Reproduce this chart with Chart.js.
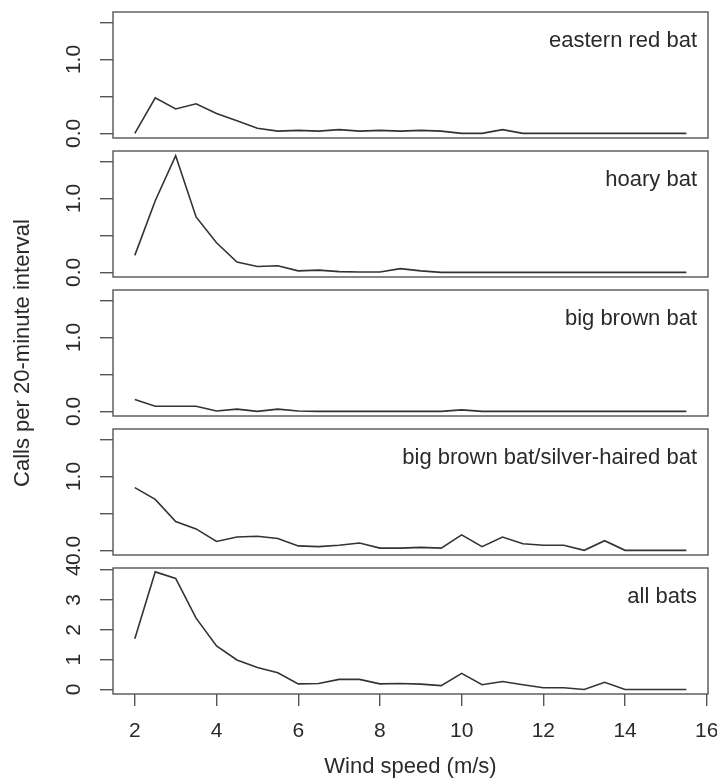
<!DOCTYPE html>
<html>
<head>
<meta charset="utf-8">
<script src="https://cdn.jsdelivr.net/npm/chart.js@4.4.1/dist/chart.umd.min.js"></script>
<style>
  html, body { margin: 0; padding: 0; background: #fff; }
  #wrap { position: relative; width: 717px; height: 783px; overflow: hidden; background: #fff; }
  #wrap canvas { position: absolute; left: 0; }
</style>
</head>
<body>
<div id="wrap"></div>
<script>
// wind speed bins (m/s)
const windSpeed = [2, 2.5, 3, 3.5, 4, 4.5, 5, 5.5, 6, 6.5, 7, 7.5, 8, 8.5, 9, 9.5,
                   10, 10.5, 11, 11.5, 12, 12.5, 13, 13.5, 14, 14.5, 15, 15.5];

// calls per 20-minute interval
const easternRedBat = [0, 0.48, 0.33, 0.40, 0.27, 0.17, 0.07, 0.03, 0.04, 0.03, 0.05, 0.03, 0.04, 0.03,
                       0.04, 0.03, 0, 0, 0.05, 0, 0, 0, 0, 0, 0, 0, 0, 0];
const hoaryBat = [0.23, 0.97, 1.58, 0.75, 0.40, 0.14, 0.08, 0.09, 0.02, 0.03, 0.01, 0.005, 0.005, 0.05,
                  0.02, 0, 0, 0, 0, 0, 0, 0, 0, 0, 0, 0, 0, 0];
const bigBrownBat = [0.16, 0.07, 0.07, 0.07, 0.005, 0.03, 0, 0.03, 0.005, 0, 0, 0, 0, 0,
                     0, 0, 0.02, 0, 0, 0, 0, 0, 0, 0, 0, 0, 0, 0];
const bigBrownSilverHaired = [0.85, 0.69, 0.39, 0.29, 0.12, 0.18, 0.19, 0.16, 0.06, 0.05, 0.07, 0.10, 0.03, 0.03,
                              0.04, 0.03, 0.21, 0.05, 0.18, 0.09, 0.07, 0.07, 0, 0.13, 0, 0, 0, 0];
const allBats = [1.70, 3.94, 3.72, 2.39, 1.46, 0.99, 0.74, 0.56, 0.19, 0.20, 0.34, 0.34, 0.19, 0.20,
                 0.18, 0.13, 0.54, 0.16, 0.27, 0.16, 0.06, 0.06, 0, 0.24, 0, 0, 0, 0];

const panelNames = ['eastern red bat', 'hoary bat', 'big brown bat', 'big brown bat/silver-haired bat', 'all bats'];
const panelSeries = [easternRedBat, hoaryBat, bigBrownBat, bigBrownSilverHaired, allBats];

const xTicks = [2, 4, 6, 8, 10, 12, 14, 16];
const speciesYTicks = [0, 0.5, 1, 1.5];
const speciesYLabels = ['0.0', '', '1.0', ''];
const allYTicks = [0, 1, 2, 3, 4];
const allYLabels = ['0', '1', '2', '3', '4'];

const xTitle = 'Wind speed (m/s)';
const yTitle = 'Calls per 20-minute interval';

// layout
const W = 717, H = 783;
const PANEL_TOP = [12, 151, 290, 429, 568];
const PANEL_H = 126;
const PLOT_LEFT = 113, PLOT_RIGHT = 708;
const TITLE_PANEL = 2;   // the shared y title hangs on the middle panel's axis
const FONT = 'Liberation Sans, Arial, Helvetica, sans-serif';
const INK = '#2a2a2a';
const FRAME = '#555';

const wrap = document.getElementById('wrap');

panelSeries.forEach((values, i) => {
  const last = i === panelSeries.length - 1;
  const pad = i === TITLE_PANEL ? 150 : 20;   // room outside the plot area so labels are not cut
  const top = PANEL_TOP[i] - pad;
  const height = last ? H - top : PANEL_H + 2 * pad;

  const canvas = document.createElement('canvas');
  canvas.width = W;
  canvas.height = height;
  canvas.style.top = top + 'px';
  wrap.appendChild(canvas);

  const yTicks = last ? allYTicks : speciesYTicks;
  const yLabels = last ? allYLabels : speciesYLabels;

  // frame round the plot area and the panel name in its top right corner
  const frame = {
    id: 'frame',
    afterDatasetsDraw(chart) {
      const { ctx, chartArea: a } = chart;
      ctx.save();
      ctx.strokeStyle = FRAME;
      ctx.lineWidth = 1.4;
      ctx.strokeRect(a.left, a.top, a.right - a.left, a.bottom - a.top);
      ctx.fillStyle = INK;
      ctx.font = '22px ' + FONT;
      ctx.textAlign = 'right';
      ctx.textBaseline = 'alphabetic';
      ctx.fillText(panelNames[i], a.right - 11, a.top + 35);
      ctx.restore();
    }
  };

  new Chart(canvas.getContext('2d'), {
    type: 'line',
    data: {
      datasets: [{
        data: windSpeed.map((x, k) => ({ x, y: values[k] })),
        borderColor: '#333',
        borderWidth: 1.6,
        pointRadius: 0,
        tension: 0,
        fill: false
      }]
    },
    options: {
      responsive: false,
      animation: false,
      layout: { padding: { top: pad, bottom: last ? 0 : pad, left: 0, right: W - PLOT_RIGHT } },
      plugins: { legend: { display: false }, tooltip: { enabled: false } },
      scales: {
        x: {
          type: 'linear',
          min: 1.466,
          max: 16.03,
          display: last,
          afterBuildTicks: s => { s.ticks = xTicks.map(v => ({ value: v })); },
          afterFit: s => {
            if (!last) return;
            s.height = H - (PANEL_TOP[i] + PANEL_H);
            s.paddingLeft = 0;
            s.paddingRight = 0;
          },
          grid: { drawOnChartArea: false, drawTicks: true, tickLength: 12, color: FRAME, lineWidth: 1.4 },
          border: { display: false },
          ticks: { color: INK, font: { family: FONT, size: 21 }, padding: 13, maxRotation: 0, autoSkip: false },
          title: { display: last, text: xTitle, color: INK, font: { family: FONT, size: 22 }, padding: { top: 0, bottom: 3 } }
        },
        y: {
          type: 'linear',
          min: last ? -0.15 : -0.063,
          max: last ? 4.07 : 1.643,
          afterBuildTicks: s => { s.ticks = yTicks.map(v => ({ value: v })); },
          afterFit: s => { s.width = PLOT_LEFT; s.paddingTop = 0; s.paddingBottom = 0; },
          grid: { drawOnChartArea: false, drawTicks: true, tickLength: 13, color: FRAME, lineWidth: 1.4 },
          border: { display: false },
          ticks: {
            callback: (v, idx) => yLabels[idx],
            color: INK,
            font: { family: FONT, size: 21 },
            minRotation: 90,
            maxRotation: 90,
            crossAlign: 'center',
            padding: last ? 20 : 11,
            autoSkip: false
          },
          title: { display: i === TITLE_PANEL, text: yTitle, color: INK, font: { family: FONT, size: 22 }, padding: { top: 10, bottom: 0 } }
        }
      }
    },
    plugins: [frame]
  });
});
</script>
</body>
</html>
